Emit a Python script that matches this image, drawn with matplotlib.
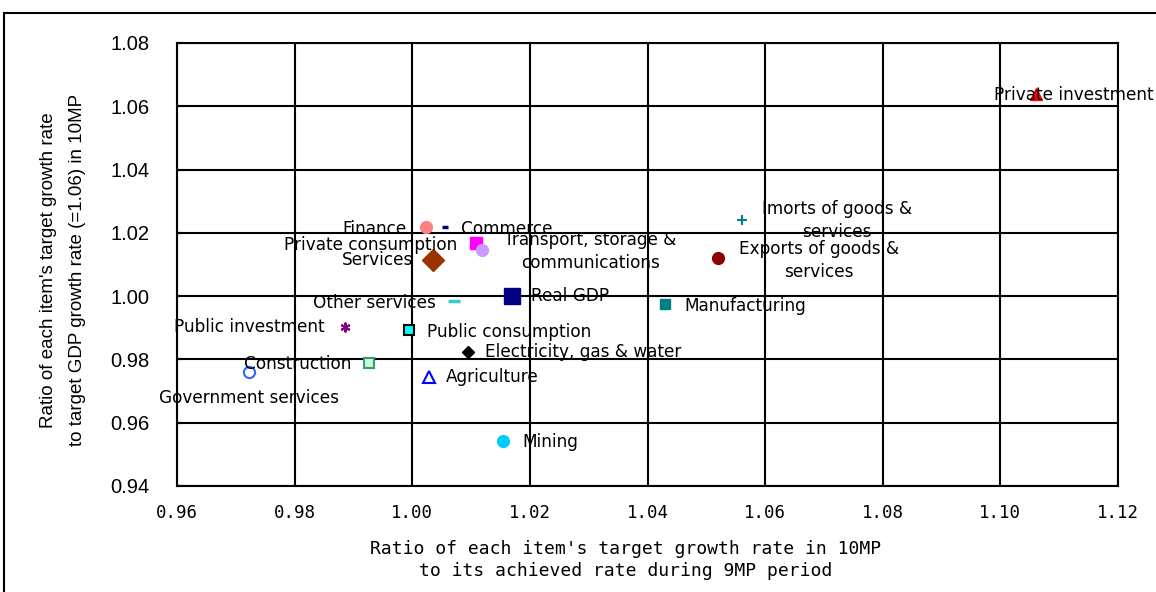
import matplotlib.pyplot as plt
from matplotlib.patches import Rectangle

# data
items = ["Private investment", "Imorts of goods &\nservices", "Exports of goods &\nservices",
         "Manufacturing", "Real GDP", "Finance", "Commerce", "Private consumption",
         "Transport, storage &\ncommunications", "Services", "Other services",
         "Public investment", "Public consumption", "Electricity, gas & water",
         "Construction", "Government services", "Agriculture", "Mining"]
x_ratio = [1.106, 1.056, 1.052, 1.043, 1.017, 1.0023, 1.0056, 1.0108, 1.0118, 1.0036,
           1.0071, 0.9885, 0.9995, 1.0095, 0.9927, 0.9722, 1.0028, 1.0154]
y_ratio = [1.064, 1.024, 1.012, 0.9975, 1.000, 1.0217, 1.0217, 1.0167, 1.0146, 1.0113,
           0.9985, 0.9903, 0.9893, 0.9822, 0.9789, 0.9761, 0.9743, 0.9543]
xticks = [0.96, 0.98, 1.00, 1.02, 1.04, 1.06, 1.08, 1.10, 1.12]
yticks = [0.94, 0.96, 0.98, 1.00, 1.02, 1.04, 1.06, 1.08]

# marker, size, face, edge, edge width
styles = [("^", 9, "#FF0000", "#FF0000", 1),
          ("+", 7, "#008080", "#008080", 1.5),
          ("o", 8.5, "#8B0000", "#8B0000", 1),
          ("s", 7.5, "#008080", "#008080", 1),
          ("s", 12, "#000080", "#000080", 1),
          ("o", 8.5, "#FF8080", "#FF8080", 1),
          ("_", 5, "#000080", "#000080", 2.5),
          ("s", 8, "#FF00FF", "#FF00FF", 1),
          ("o", 8.5, "#CC99FF", "#CC99FF", 1),
          ("D", 11, "#993300", "#993300", 1),
          ("_", 9, "#33CCCC", "#33CCCC", 2.5),
          ((6, 2, 0), 7, "#800080", "#800080", 1.5),
          ("s", 6.5, "#00FFFF", "#000000", 1.5),
          ("D", 6.5, "#000000", "#000000", 1),
          ("s", 7, "#CCFFCC", "#339980", 1.5),
          ("o", 8, "white", "#3366FF", 1.5),
          ("^", 9, "white", "#0000FF", 1.5),
          ("o", 8.5, "#00CCFF", "#00CCFF", 1)]
# label offset in pixels and alignment
offsets = [(-42, -1, "left"), (95, 0, "center"), (101, -2, "center"), (19, -2, "left"),
           (19, 0, "left"), (-19, -2, "right"), (16, -2, "left"), (-19, -2, "right"),
           (109, -2, "center"), (-20, 0, "right"), (-18, -2, "right"), (-20, 0, "right"),
           (18, -2, "left"), (17, 0, "left"), (-18, -1, "right"), (0, -26, "center"),
           (17, 0, "left"), (20, -1, "left")]

fig = plt.figure(figsize=(11.56, 5.92), dpi=100)
ax = fig.add_axes([177/1156, 1-486/592, (1118-177)/1156, (486-43)/592])

for i in range(len(items)):
    m, ms, fc, ec, mew = styles[i]
    ax.plot(x_ratio[i], y_ratio[i], marker=m, markersize=ms, markerfacecolor=fc,
            markeredgecolor=ec, markeredgewidth=mew, linestyle="none", zorder=3,
            clip_on=False)
    dx, dy, ha = offsets[i]
    ax.annotate(items[i], (x_ratio[i], y_ratio[i]), xytext=(dx, dy),
                textcoords="offset pixels", ha=ha, va="center", fontsize=12.2,
                family="DejaVu Sans", linespacing=1.35, zorder=4,
                annotation_clip=False)

ax.set_xlim(0.96, 1.12)
ax.set_ylim(0.94, 1.08)
ax.set_xticks(xticks)
ax.set_yticks(yticks)
ax.set_xticklabels(["%.2f" % v for v in xticks], family="DejaVu Sans Mono", fontsize=12.5)
ax.set_yticklabels(["%.2f" % v for v in yticks], family="Liberation Sans", fontsize=14.5)
ax.tick_params(axis="x", length=0, pad=13)
ax.tick_params(axis="y", length=4, direction="in", pad=20, width=1.5)
ax.grid(True, color="black", linewidth=1.5)
ax.set_axisbelow(True)
for s in ax.spines.values():
    s.set_linewidth(1.5)

fig.text(626/1156, 1-560/592, "Ratio of each item's target growth rate in 10MP\nto its achieved rate during 9MP period",
         ha="center", va="center", family="DejaVu Sans Mono", fontsize=13, linespacing=1.35)
fig.text(63/1156, 1-270/592, "Ratio of each item's target growth rate\nto target GDP growth rate (=1.06) in 10MP",
         ha="center", va="center", rotation=90, family="Liberation Sans", fontsize=13.5,
         linespacing=1.9)

# outer frame of the figure box, cut by the image edges
fig.patches.append(Rectangle((4/1156, -0.1), 1.1, 1.1 - 12.5/592, transform=fig.transFigure,
                             fill=False, edgecolor="black", linewidth=1.5))

fig.savefig("out.png", dpi=100)
